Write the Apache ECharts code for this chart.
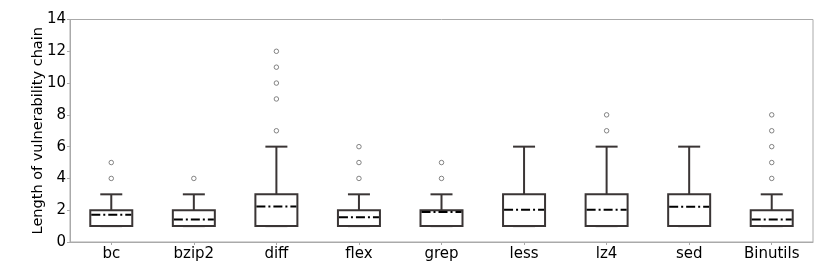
<!DOCTYPE html>
<html>
<head>
<meta charset="utf-8">
<script src="https://cdn.jsdelivr.net/npm/echarts@6/dist/echarts.min.js"></script>
<style>html,body{margin:0;padding:0;background:#fff}#c{width:830px;height:277px}</style>
</head>
<body>
<div id="c"></div>
<script>
const categories = ['bc','bzip2','diff','flex','grep','less','lz4','sed','Binutils'];
const whiskerLow = [1,1,1,1,1,1,1,1,1];
const q1 = [1,1,1,1,1,1,1,1,1];
const medians = [1.72,1.42,2.24,1.55,1.89,2.03,2.03,2.22,1.42];
const q3 = [2,2,3,2,2,3,3,3,2];
const whiskerHigh = [3,3,6,3,3,6,6,6,3];
const outliers = [[4,5],[4],[7,9,10,11,12],[4,5,6],[4,5],[],[7,8],[],[4,5,6,7,8]];
const yTicks = [0,2,4,6,8,10,12,14];

const boxData = categories.map((c,i)=>[i,whiskerLow[i],q1[i],medians[i],q3[i],whiskerHigh[i]]);
const outData = [];
outliers.forEach((arr,i)=>arr.forEach(v=>outData.push([i,v])));

const BOX_HALF = 21, CAP_HALF = 11;
const STROKE = '#3a3535';

const chart = echarts.init(document.getElementById('c'));
chart.setOption({
  animation:false,
  grid:{left:70,right:17,top:19.5,bottom:35,show:true,borderColor:'#aaa',borderWidth:1},
  xAxis:{type:'category',data:categories,
    axisLine:{lineStyle:{color:'#aaa'}},
    axisTick:{show:true,alignWithLabel:true,length:3,lineStyle:{color:'#aaa'}},
    axisLabel:{color:'#000',fontSize:15,fontFamily:'DejaVu Sans',margin:5}},
  yAxis:{type:'value',min:0,max:14,interval:2,
    name:'Length of vulnerability chain',nameLocation:'middle',nameGap:24,nameMoveOverlap:false,
    nameTextStyle:{color:'#000',fontSize:14.5,fontFamily:'DejaVu Sans'},
    axisLine:{show:true,lineStyle:{color:'#aaa'}},
    axisTick:{show:true,length:3,lineStyle:{color:'#aaa'}},
    splitLine:{show:false},
    axisLabel:{color:'#000',fontSize:15,fontFamily:'DejaVu Sans',margin:4,
      formatter:v=>yTicks.includes(v)?String(v):''}},
  series:[
    {type:'custom',data:boxData,z:3,
      renderItem:function(params,api){
        const x=api.value(0);
        const pLo=api.coord([x,api.value(1)]);
        const pQ1=api.coord([x,api.value(2)]);
        const pMed=api.coord([x,api.value(3)]);
        const pQ3=api.coord([x,api.value(4)]);
        const pHi=api.coord([x,api.value(5)]);
        const cx=pQ1[0];
        const ls={stroke:STROKE,lineWidth:2,fill:null};
        return {type:'group',children:[
          {type:'line',shape:{x1:cx,y1:pQ3[1],x2:cx,y2:pHi[1]},style:ls},
          {type:'line',shape:{x1:cx-CAP_HALF,y1:pHi[1],x2:cx+CAP_HALF,y2:pHi[1]},style:ls},
          {type:'line',shape:{x1:cx,y1:pQ1[1],x2:cx,y2:pLo[1]},style:ls},
          {type:'line',shape:{x1:cx-CAP_HALF,y1:pLo[1],x2:cx+CAP_HALF,y2:pLo[1]},style:ls},
          {type:'rect',shape:{x:cx-BOX_HALF,y:pQ3[1],width:2*BOX_HALF,height:pQ1[1]-pQ3[1]},style:{stroke:STROKE,lineWidth:2,fill:'#fff'}},
          {type:'line',shape:{x1:cx-BOX_HALF+1,y1:pMed[1],x2:cx+BOX_HALF-1,y2:pMed[1]},style:{stroke:'#000',lineWidth:2,lineDash:[9,3,2,3]}}
        ]};
      }},
    {type:'scatter',data:outData,symbol:'circle',symbolSize:4.5,z:6,
      itemStyle:{color:'#fff',borderColor:'#666',borderWidth:1}}
  ]
});
</script>
</body>
</html>
